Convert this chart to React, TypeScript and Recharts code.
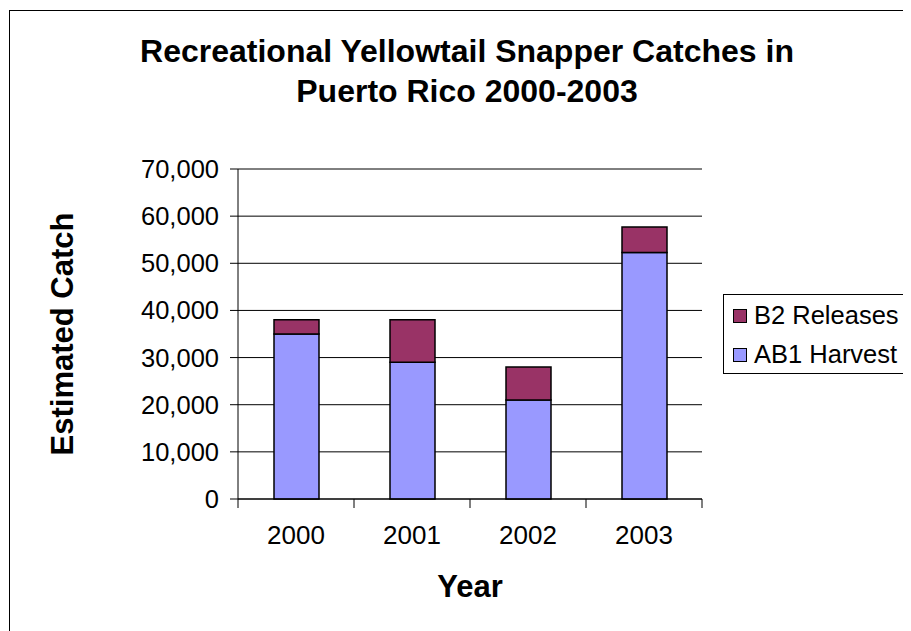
import { BarChart, Bar, XAxis, YAxis, CartesianGrid, Legend } from "recharts";

const years = ["2000", "2001", "2002", "2003"];
const harvest = [35000, 29000, 21000, 52300];
const releases = [3000, 9000, 7000, 5400];
const yTicks = [0, 10000, 20000, 30000, 40000, 50000, 60000, 70000];

const data = years.map((year, i) => ({
  year,
  harvest: harvest[i],
  releases: releases[i],
}));

const FONT = "'Liberation Sans', Arial, sans-serif";
const BAND = 116; // plot width / categories

function YearTick(props: any) {
  const { x, y, payload, index } = props;
  return (
    <g>
      <line x1={x - BAND / 2} y1={y} x2={x - BAND / 2} y2={y + 9} stroke="#000" />
      {index === years.length - 1 && (
        <line x1={x + BAND / 2} y1={y} x2={x + BAND / 2} y2={y + 9} stroke="#000" />
      )}
      <text
        x={x}
        y={y + 45}
        textAnchor="middle"
        fontSize={26}
        fontFamily={FONT}
        fill="#000"
      >
        {payload.value}
      </text>
    </g>
  );
}

function LegendBox() {
  const items = [
    { label: "B2 Releases", color: "#993366" },
    { label: "AB1 Harvest", color: "#9999FF" },
  ];
  return (
    <div
      style={{
        border: "1px solid #000",
        width: 200,
        height: 80,
        padding: "1px 0 0 9px",
        boxSizing: "border-box",
        fontFamily: FONT,
        fontSize: 25.5,
        textAlign: "left",
      }}
    >
      {items.map((it) => (
        <div
          key={it.label}
          style={{ display: "flex", alignItems: "center", height: 39 }}
        >
          <span
            style={{
              width: 12,
              height: 12,
              background: it.color,
              border: "1px solid #000",
              marginRight: 7,
              flexShrink: 0,
            }}
          />
          <span>{it.label}</span>
        </div>
      ))}
    </div>
  );
}

export default function App() {
  return (
    <div
      style={{
        position: "relative",
        width: 903,
        height: 623,
        overflow: "hidden",
        background: "#fff",
      }}
    >
      <div
        style={{
          position: "absolute",
          left: 1,
          top: 2,
          width: 910,
          height: 700,
          border: "1.5px solid #000",
        }}
      />
      <div
        style={{
          position: "absolute",
          left: 0,
          top: 23,
          width: 918,
          textAlign: "center",
          fontFamily: FONT,
          fontWeight: "bold",
          fontSize: 32,
          lineHeight: "40px",
        }}
      >
        Recreational Yellowtail Snapper Catches in
        <br />
        Puerto Rico 2000-2003
      </div>
      <BarChart
        width={903}
        height={623}
        data={data}
        margin={{ top: 161, right: 209, left: 0, bottom: 0 }}
        barSize={45}
        style={{ position: "absolute", left: 0, top: 0 }}
      >
        <CartesianGrid vertical={false} stroke="#000" strokeWidth={1} />
        <XAxis
          dataKey="year"
          height={132}
          tickSize={0}
          tickMargin={0}
          tick={<YearTick />}
          axisLine={{ stroke: "#000" }}
          tickLine={false}
          label={{
            value: "Year",
            position: "insideTop",
            offset: 76,
            style: { fontFamily: FONT, fontSize: 31, fontWeight: "bold", fill: "#000" },
          }}
        />
        <YAxis
          width={230}
          domain={[0, 70000]}
          ticks={yTicks}
          interval={0}
          tickSize={8}
          tickMargin={11}
          tickFormatter={(v: number) => v.toLocaleString("en-US")}
          tick={{ fontFamily: FONT, fontSize: 25.5, fill: "#000" }}
          axisLine={{ stroke: "#000" }}
          tickLine={{ stroke: "#000" }}
          label={{
            value: "Estimated Catch",
            angle: -90,
            position: "insideLeft",
            offset: 54,
            style: {
              fontFamily: FONT,
              fontSize: 31,
              fontWeight: "bold",
              fill: "#000",
              textAnchor: "middle",
            },
          }}
        />
        <Legend
          layout="horizontal"
          verticalAlign="middle"
          align="center"
          content={<LegendBox />}
          wrapperStyle={{ position: "absolute", left: 715, top: 286, width: 200 }}
        />
        <Bar
          dataKey="harvest"
          name="AB1 Harvest"
          stackId="a"
          fill="#9999FF"
          stroke="#000"
          strokeWidth={1.5}
          isAnimationActive={false}
        />
        <Bar
          dataKey="releases"
          name="B2 Releases"
          stackId="a"
          fill="#993366"
          stroke="#000"
          strokeWidth={1.5}
          isAnimationActive={false}
        />
      </BarChart>
    </div>
  );
}
